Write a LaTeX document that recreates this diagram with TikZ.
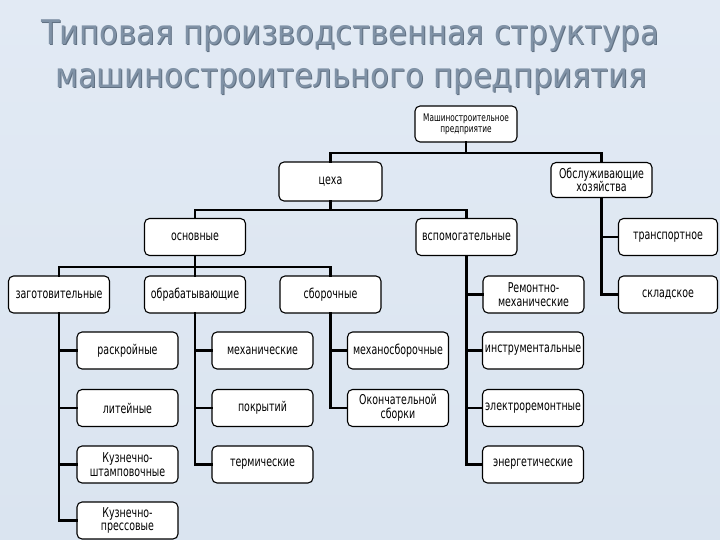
\documentclass[tikz,border=0pt]{standalone}
\usepackage{fontspec}
\setmainfont{DejaVu Sans}
\newfontfamily\boxfont[FakeStretch=0.7]{DejaVu Sans}
\newfontfamily\titlefont[FakeStretch=0.9]{DejaVu Sans}
\definecolor{bgtop}{RGB}{226,234,244}
\definecolor{bgbot}{RGB}{218,228,240}
\definecolor{titlecol}{RGB}{128,146,166}
\definecolor{titleshadow}{RGB}{96,112,130}
\begin{document}
\begin{tikzpicture}[x=1pt,y=-1pt,
  unit/.style={draw=black,line width=1.1pt,fill=white,rounded corners=5pt,
    minimum width=101pt,minimum height=37pt,inner sep=1pt,align=center,
    font=\boxfont\fontsize{13.5}{13.5}\selectfont},
  smallunit/.style={unit,font=\boxfont\fontsize{10.5}{11}\selectfont},
  link/.style={line width=2.6pt,line cap=rect},
  ttl/.style={anchor=base,font=\titlefont\fontsize{34}{40}\selectfont,inner sep=0pt}]
\useasboundingbox (0,0) rectangle (720,540);
\shade[top color=bgtop,bottom color=bgbot] (0,0) rectangle (720,540);
% title
\node[ttl,text=titleshadow] at (351,46) {Типовая производственная структура};
\node[ttl,text=titlecol] (t1) at (350,45) {Типовая производственная структура};
\node[ttl,text=titleshadow] at (352,89) {машиностроительного предприятия};
\node[ttl,text=titlecol] (t2) at (351,88) {машиностроительного предприятия};
% bus levels
\coordinate (b1) at (0,153);
\coordinate (b2) at (0,210);
\coordinate (b3) at (0,267);
% nodes
\node[smallunit,minimum width=102pt,minimum height=36pt] (root) at (466,124) {Машиностроительное\\предприятие};
\node[unit,minimum height=35pt] (obsl) at (601.5,180) {Обслуживающие\\хозяйства};
\node[unit,minimum width=103pt,minimum height=39pt] (tseh) at (330.5,181.5) {цеха};
\node[unit] (osn) at (195,237) {основные};
\node[unit] (vsp) at (466.5,237) {вспомогательные};
\node[unit,minimum width=99pt] (tr) at (668,237) {транспортное};
\node[unit] (zag) at (59,294.5) {заготовительные};
\node[unit] (obr) at (195,294.5) {обрабатывающие};
\node[unit] (sbor) at (330.5,294.5) {сборочные};
\node[unit] (rem) at (533.5,294.5) {Ремонтно-\\механические};
\node[unit,minimum width=99pt] (skl) at (668,294.5) {складское};
\node[unit] (rask) at (127.5,350.5) {раскройные};
\node[unit] (lit) at (127.5,408) {литейные};
\node[unit] (kshtamp) at (127.5,464.5) {Кузнечно-\\штамповочные};
\node[unit] (kpress) at (127.5,520.5) {Кузнечно-\\прессовые};
\node[unit] (meh) at (262.5,350.5) {механические};
\node[unit] (pokr) at (262.5,408) {покрытий};
\node[unit] (term) at (262.5,464.5) {термические};
\node[unit] (mehsb) at (398,350.5) {механосборочные};
\node[unit] (okon) at (398,408) {Окончательной\\сборки};
\node[unit] (instr) at (533,350.5) {инструментальные};
\node[unit] (elrem) at (533,408) {электроремонтные};
\node[unit] (energ) at (533,464.5) {энергетические};
% connectors
\begin{scope}[link]
\draw (root.south) -- (root.south |- b1);
\draw (tseh.north) -- (tseh.north |- b1) -| (obsl.north);
\draw (tseh.south) -- (tseh.south |- b2);
\draw (osn.north) -- (osn.north |- b2) -| (vsp.north);
\draw (osn.south) -- (osn.south |- b3);
\draw (zag.north) -- (zag.north |- b3) -| (sbor.north);
\draw (obr.north) -- (obr.north |- b3);
\draw (zag.south) |- (kpress.west);
\draw (zag.south |- rask.west) -- (rask.west);
\draw (zag.south |- lit.west) -- (lit.west);
\draw (zag.south |- kshtamp.west) -- (kshtamp.west);
\draw (obr.south) |- (term.west);
\draw (obr.south |- meh.west) -- (meh.west);
\draw (obr.south |- pokr.west) -- (pokr.west);
\draw (sbor.south) |- (okon.west);
\draw (sbor.south |- mehsb.west) -- (mehsb.west);
\draw (vsp.south) |- (energ.west);
\draw (vsp.south |- rem.west) -- (rem.west);
\draw (vsp.south |- instr.west) -- (instr.west);
\draw (vsp.south |- elrem.west) -- (elrem.west);
\draw (obsl.south) |- (skl.west);
\draw (obsl.south |- tr.west) -- (tr.west);
\end{scope}
\end{tikzpicture}
\end{document}
